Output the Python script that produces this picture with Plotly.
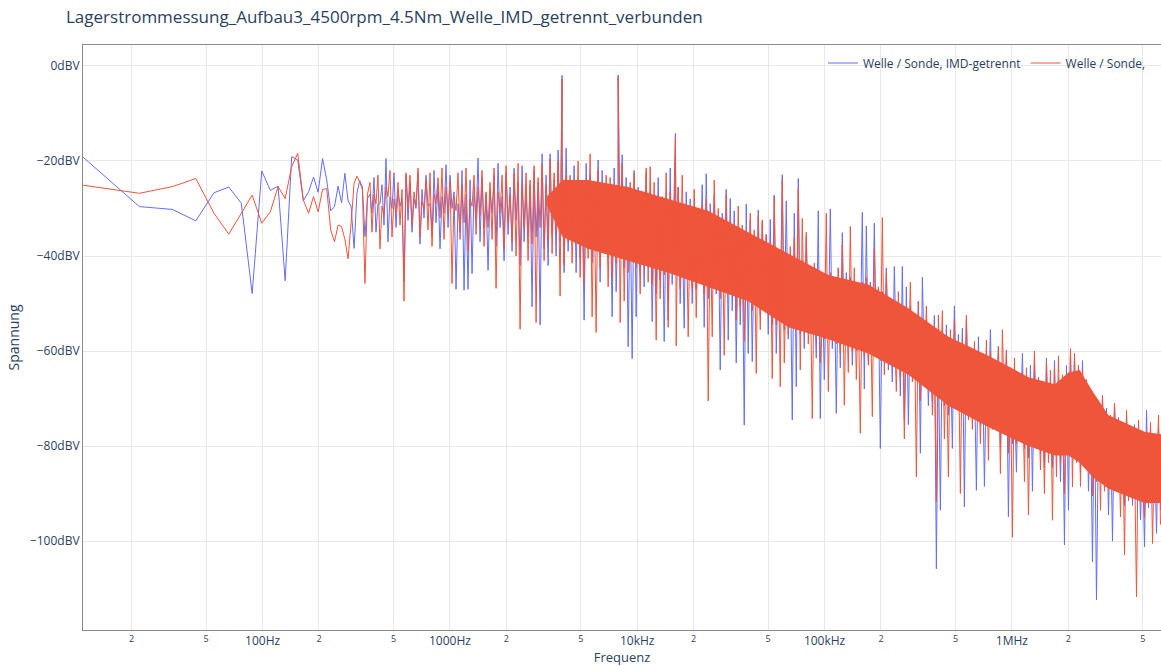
import numpy as np
import plotly.graph_objects as go

TITLE = "Lagerstrommessung_Aufbau3_4500rpm_4.5Nm_Welle_IMD_getrennt_verbunden"
NAME_BLUE = "Welle / Sonde, IMD-getrennt"
NAME_RED = "Welle / Sonde,"
X_TITLE = "Frequenz"
Y_TITLE = "Spannung"

DF = 11.0          # FFT bin spacing [Hz]
F_NYQ = 6.25e6     # upper end of the spectrum [Hz]

# Lowest FFT bins (k = 1 .. 33), level in dBV
blue_low = [-19.2, -29.6, -30.2, -32.6, -26.7, -25.5, -28.9, -47.9, -22.1, -26.2,
            -25.3, -45.2, -19.1, -19.8, -28.4, -26.5, -23.4, -26.6, -19.5, -24.0,
            -30.5, -29.6, -25.3, -28.8, -22.6, -28.4, -29.6, -38.4, -26.8, -24.1,
            -25.4, -35.9, -27.9]
red_low = [-25.1, -26.8, -25.4, -23.7, -31.0, -35.4, -31.0, -27.2, -33.1, -30.7,
           -25.4, -27.9, -21.2, -18.4, -28.2, -31.0, -27.5, -30.7, -26.0, -25.8,
           -34.5, -37.0, -33.5, -33.8, -36.5, -40.6, -33.0, -24.7, -23.2, -24.4,
           -26.0, -45.8, -27.0]

# Above 374 Hz the spectrum is given as alternating local maxima / minima
# on a logarithmic frequency grid (maximum first, then minimum, ...).
F_GRID_START = 374.4
F_GRID_STOP = 6.214e6

red_top = [
    -24.5, -27.0, -23.0, -29.5, -25.5, -22.0, -28.0, -24.5, -26.0, -22.5,
    -23.0, -26.5, -21.5, -28.5, -24.0, -22.5, -27.0, -23.5, -21.5, -25.5,
    -24.0, -27.5, -22.5, -25.0, -21.5, -28.0, -23.0, -25.5, -22.0, -26.5,
    -24.5, -21.5, -26.5, -23.0, -21.0, -27.0, -22.5, -20.5, -25.0, -22.5,
    -24.0, -21.0, -23.5, -20.5, -25.0, -19.5, -22.5, -20.0, -18.5, -23.0,
    -23.0, -28.0, -20.0, -24.0, -27.0, -18.5, -25.0, -22.0, -29.0, -23.0,
    -23.5, -28.5, -25.5, -20.5, -30.5, -24.5, -22.5, -27.5, -26.5, -21.5,
    -21.2, -24.5, -28.5, -31.5, -22.5, -26.5, -30.5, -25.5, -23.0, -29.5,
    -31.0, -26.0, -34.0, -29.0, -28.0, -33.0, -24.0, -30.0, -32.0, -27.0,
    -32.5, -37.5, -29.5, -33.5, -36.5, -31.0, -34.5, -31.5, -32.4, -35.5,
    -37.0, -27.5, -39.0, -24.0, -44.0, -38.0, -36.0, -25.8, -32.1, -35.0,
    -46.5, -41.5, -45.5, -48.5, -31.0, -43.5, -47.5, -42.5, -37.5, -46.5,
    -33.8, -42.5, -50.5, -45.5, -44.5, -49.5, -38.5, -46.5, -31.9, -43.5,
    -50.5, -55.5, -47.5, -51.5, -54.5, -45.5, -52.5, -49.5, -56.5, -50.5,
    -54.5, -59.5, -52.4, -51.5, -61.5, -55.5, -53.5, -58.5, -57.5, -52.5,
    -63.0, -58.0, -62.0, -65.0, -57.7, -60.0, -64.0, -59.0, -55.5, -59.8,
    -66.5, -61.5, -69.5, -64.5, -63.5, -68.5, -60.0, -65.5, -67.5, -62.5,
    -64.0, -63.6, -61.0, -65.0, -68.0, -59.5, -60.5, -63.0, -64.0, -66.0,
    -68.0, -73.0, -72.0, -69.5, -77.0, -73.5, -71.0, -76.0, -75.0, -72.4,
    -77.5, -82.5, -74.5, -78.5, -81.5, -75.0, -79.5, -73.5,
]
red_bottom = [
    -35.0, -29.0, -38.5, -31.5, -27.5, -36.0, -31.0, -33.5, -49.5, -30.0,
    -33.5, -29.5, -36.0, -30.0, -34.5, -38.0, -29.0, -32.0, -36.5, -31.0,
    -45.8, -30.5, -36.5, -33.0, -39.0, -29.5, -35.5, -31.5, -38.0, -34.0,
    -36.5, -46.8, -31.0, -38.5, -33.0, -37.0, -40.0, -55.4, -34.0, -41.0,
    -37.5, -54.0, -34.0, -41.0, -36.5, -39.5, -35.0, -48.4, -42.0, -37.0,
    -41.5, -36.5, -44.5, -45.8, -40.5, -52.8, -56.1, -42.5, -37.5, -46.5,
    -44.5, -41.5, -54.0, -49.5, -43.5, -39.5, -42.5, -48.0, -40.5, -45.5,
    -46.0, -57.7, -49.0, -44.0, -55.0, -40.0, -58.9, -47.0, -42.0, -57.0,
    -47.0, -53.0, -43.0, -48.0, -70.5, -57.0, -45.0, -49.0, -60.9, -46.0,
    -46.5, -53.5, -50.5, -58.0, -48.5, -51.5, -64.7, -55.5, -49.5, -50.5,
    -65.8, -54.5, -67.5, -62.5, -56.5, -52.5, -55.5, -64.0, -53.5, -58.5,
    -74.2, -54.5, -62.5, -57.5, -68.5, -53.5, -58.5, -60.5, -71.4, -64.5,
    -60.0, -66.0, -77.3, -61.0, -63.0, -73.8, -58.0, -62.0, -65.0, -59.0,
    -61.5, -68.5, -65.5, -78.5, -63.5, -66.5, -86.5, -70.5, -64.5, -65.5,
    -73.5, -91.7, -67.5, -78.5, -86.5, -68.5, -71.5, -90.0, -69.5, -74.5,
    -76.5, -71.5, -79.5, -74.5, -83.0, -70.5, -75.5, -85.8, -72.5, -81.5,
    -99.2, -79.5, -76.5, -87.5, -94.5, -77.5, -80.5, -85.0, -90.0, -83.5,
    -95.6, -86.5, -83.5, -90.0, -81.5, -88.6, -78.5, -88.5, -82.5, -83.5,
    -90.5, -87.5, -93.5, -89.5, -86.0, -85.5, -88.5, -94.9, -102.9, -91.5,
    -87.5, -111.7, -91.5, -95.0, -89.5, -100.5, -86.5, -96.5,
]
blue_top = [
    -27.0, -23.5, -29.0, -25.0, -19.5, -27.5, -22.5, -26.0, -28.0, -23.0,
    -24.5, -28.0, -22.5, -26.0, -23.0, -29.0, -22.0, -25.0, -27.5, -20.8,
    -23.0, -26.5, -29.0, -22.0, -27.0, -24.0, -25.5, -19.4, -23.5, -27.0,
    -26.0, -23.0, -20.5, -27.5, -22.5, -25.5, -21.5, -24.5, -21.0, -26.0,
    -25.0, -22.0, -24.5, -18.5, -23.0, -18.5, -24.0, -17.7, -21.5, -17.3,
    -26.0, -21.0, -25.0, -28.0, -20.5, -23.0, -27.0, -19.8, -22.0, -26.0,
    -26.5, -21.5, -29.5, -18.7, -23.5, -28.5, -22.0, -25.5, -27.5, -22.5,
    -26.5, -31.5, -23.5, -27.5, -30.5, -21.5, -28.5, -25.5, -32.5, -26.5,
    -28.0, -33.0, -30.0, -25.0, -22.7, -29.0, -27.0, -32.0, -31.0, -26.0,
    -27.9, -30.5, -34.5, -37.5, -29.1, -32.5, -36.5, -30.3, -33.0, -35.5,
    -32.3, -27.2, -43.0, -22.9, -28.4, -42.0, -31.0, -23.7, -41.0, -36.0,
    -43.5, -48.5, -30.5, -44.5, -47.5, -30.1, -45.5, -42.5, -35.1, -43.5,
    -44.5, -49.5, -46.5, -30.8, -33.7, -45.5, -33.1, -48.5, -47.5, -42.5,
    -53.5, -42.2, -52.5, -42.2, -46.5, -50.5, -54.5, -49.5, -44.5, -53.5,
    -57.5, -52.5, -60.5, -55.5, -54.5, -59.5, -50.5, -56.5, -55.2, -53.5,
    -60.0, -65.0, -57.0, -61.0, -64.0, -55.5, -62.0, -59.0, -66.0, -60.0,
    -63.5, -68.5, -65.5, -60.5, -70.5, -63.0, -62.5, -67.5, -66.5, -61.5,
    -67.0, -62.0, -66.0, -69.0, -63.0, -59.9, -61.5, -63.0, -62.0, -67.0,
    -73.0, -70.0, -76.0, -69.3, -72.0, -75.0, -71.0, -74.0, -77.0, -73.5,
    -80.5, -75.5, -79.5, -82.5, -72.4, -77.5, -81.5, -76.5,
]
blue_bottom = [
    -31.0, -35.0, -29.0, -33.5, -37.0, -30.0, -34.0, -29.5, -45.4, -32.5,
    -35.0, -30.0, -37.5, -32.0, -29.5, -36.0, -33.0, -38.5, -31.0, -34.0,
    -30.0, -47.0, -35.0, -47.2, -47.0, -43.7, -32.5, -37.0, -34.0, -43.0,
    -31.0, -38.0, -34.0, -41.0, -35.5, -39.0, -32.5, -42.0, -37.0, -36.0,
    -50.7, -36.0, -54.5, -38.5, -42.0, -35.5, -40.0, -37.0, -43.5, -39.0,
    -36.5, -43.5, -40.5, -53.5, -38.5, -41.5, -35.5, -45.5, -39.5, -40.5,
    -52.8, -47.5, -37.5, -42.5, -59.1, -61.6, -52.8, -43.5, -46.5, -40.5,
    -53.8, -48.0, -45.0, -58.0, -53.5, -46.0, -40.0, -50.0, -55.2, -45.0,
    -50.0, -47.0, -44.0, -55.0, -49.0, -45.0, -48.0, -64.0, -46.0, -57.7,
    -51.5, -62.5, -54.5, -75.6, -60.5, -62.2, -50.5, -52.5, -47.5, -56.5,
    -54.5, -60.5, -50.5, -55.5, -57.5, -74.5, -67.5, -56.5, -59.5, -53.5,
    -54.5, -61.5, -74.2, -66.0, -56.5, -59.5, -73.1, -63.5, -57.5, -58.5,
    -63.0, -60.0, -57.0, -68.0, -62.0, -58.0, -61.0, -80.5, -59.0, -64.0,
    -66.5, -61.5, -69.5, -74.5, -75.5, -60.5, -65.5, -81.5, -62.5, -71.5,
    -70.5, -105.8, -93.5, -71.5, -73.5, -80.5, -68.5, -72.5, -92.8, -69.5,
    -71.5, -89.3, -75.5, -88.5, -73.5, -76.5, -70.5, -80.5, -74.5, -94.9,
    -79.5, -85.5, -75.5, -80.5, -82.5, -89.5, -77.5, -81.5, -84.5, -78.5,
    -84.5, -79.5, -87.5, -100.8, -93.5, -78.5, -83.5, -85.5, -80.5, -89.5,
    -104.4, -112.4, -83.5, -88.5, -94.5, -100.0, -85.5, -89.5, -92.5, -86.5,
    -92.5, -87.5, -95.5, -101.2, -93.0, -86.5, -98.4, -93.5,
]

# Rotor harmonics standing out of the noise floor
peak_freq = [3970.0, 7910.0, 15990.0]
blue_peak = [-2.0, -1.9, -14.2]
red_peak = [-2.7, -2.4, -14.9]

# Solid core of the red spectrum (upper / lower edge)
core_freq = [3300.0, 4000.0, 5466.0, 8943.0, 14630.0, 23920.0, 39130.0, 64020.0,
             104700.0, 171200.0, 280100.0, 458100.0, 749300.0, 1225000.0,
             1700000.0, 2004000.0, 2300000.0, 2700000.0, 3278000.0, 5104000.0,
             6250000.0]
core_hi = [-27.5, -24.0, -24.0, -25.5, -28.0, -30.5, -35.0, -39.5,
           -44.0, -46.0, -51.0, -57.0, -61.0, -65.5, -67.0, -64.5, -64.0,
           -68.5, -73.5, -77.0, -77.5]
core_lo = [-29.5, -36.0, -38.5, -41.0, -43.5, -46.5, -49.5, -55.0,
           -57.5, -60.5, -65.0, -71.5, -76.0, -80.0, -82.0, -82.0, -83.5,
           -86.5, -89.0, -92.0, -92.0]

BLUE = "#636EFA"
RED = "#EF553B"
TEXT = "#2a3f5f"
GRID = "#e8e8e8"
FRAME = "#8a8a8a"


def spectrum(low, top, bottom, peaks):
    n = min(len(top), len(bottom))
    f_low = DF * np.arange(1, len(low) + 1)
    f_grid = np.geomspace(F_GRID_START, F_GRID_STOP, 2 * n)
    v_grid = np.empty(2 * n)
    v_grid[0::2] = top[:n]
    v_grid[1::2] = bottom[:n]
    f = np.concatenate([f_low, f_grid, np.asarray(peak_freq)])
    v = np.concatenate([np.asarray(low), v_grid, np.asarray(peaks)])
    order = np.argsort(f, kind="stable")
    return f[order], v[order]


f_blue, v_blue = spectrum(blue_low, blue_top, blue_bottom, blue_peak)
f_red, v_red = spectrum(red_low, red_top, red_bottom, red_peak)

fig = go.Figure()
fig.add_trace(go.Scatter(
    x=f_blue, y=v_blue, mode="lines", name=NAME_BLUE,
    line=dict(color=BLUE, width=1),
))
fig.add_trace(go.Scatter(
    x=core_freq + core_freq[::-1], y=core_hi + core_lo[::-1],
    mode="lines", fill="toself", fillcolor=RED, line=dict(width=0, color=RED),
    showlegend=False, hoverinfo="skip",
))
fig.add_trace(go.Scatter(
    x=f_red, y=v_red, mode="lines", name=NAME_RED,
    line=dict(color=RED, width=1),
))

axis_common = dict(
    showgrid=True, gridcolor=GRID, gridwidth=1,
    showline=True, linecolor=FRAME, linewidth=1, mirror=True,
    zeroline=False, automargin=False,
    tickfont=dict(size=12, color=TEXT),
)

fig.update_layout(
    width=1161, height=666,
    margin=dict(l=83, r=0, t=45, b=36),
    paper_bgcolor="white", plot_bgcolor="white",
    font=dict(family="Open Sans, sans-serif", color=TEXT, size=12),
    title=dict(text=TITLE, x=66 / 1161, xanchor="left", y=0.975, yanchor="middle",
               font=dict(size=17, color=TEXT)),
    xaxis=dict(
        type="log",
        range=[np.log10(DF), np.log10(F_NYQ)],
        ticksuffix="Hz",
        title=dict(text=X_TITLE, font=dict(size=13, color=TEXT)),
        **axis_common,
    ),
    yaxis=dict(
        range=[-118.7, 4.4],
        dtick=20,
        ticksuffix="dBV",
        title=dict(text=Y_TITLE, font=dict(size=14, color=TEXT), standoff=6),
        **axis_common,
    ),
    legend=dict(
        orientation="h", x=0.9907, xanchor="right", y=0.994, yanchor="top",
        bgcolor="rgba(255,255,255,0)", font=dict(size=12, color=TEXT),
    ),
    showlegend=True,
)

fig.write_html("out.html")
